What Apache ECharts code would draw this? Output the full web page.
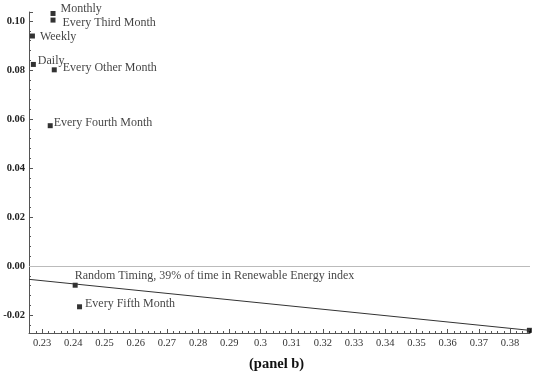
<!DOCTYPE html>
<html><head><meta charset="utf-8">
<script src="https://cdn.jsdelivr.net/npm/echarts@6/dist/echarts.min.js"></script>
<style>html,body{margin:0;padding:0;background:#fff}#c{width:550px;height:381px}</style>
</head><body><div id="c"></div>
<script>
// Strategy points: [risk (x), return (y)]
const names = ['Monthly','Every Third Month','Weekly','Daily','Every Other Month','Every Fourth Month','Random Timing, 39% of time in Renewable Energy index','Every Fifth Month','100% of time in Renewable Energy Index'];
const xVals = [0.2335,0.2335,0.2269,0.2272,0.2339,0.2326,0.2406,0.2420,0.3862];
const yVals = [0.1031,0.1004,0.0939,0.0823,0.0801,0.0573,-0.0078,-0.0166,-0.0262];
const labelOffsets = [[0,-5],[2,3],[0,1],[-3,-4],[1,-2],[-4,-3],[-8,-9],[-2,-3],[25,-22]];
// Reference line endpoints
const lineX = [0.2258,0.3862];
const lineY = [-0.0054,-0.0262];
const xMin = 0.2258, xMax = 0.3864, yMin = -0.0273, yMax = 0.1037;

const font = '"Liberation Serif", "DejaVu Serif", serif';
const chart = echarts.init(document.getElementById('c'));
const pts = names.map((n,i)=>({value:[xVals[i],yVals[i]], name:n,
  label:{show:true, position:'right', distance:5, offset:labelOffsets[i], formatter:n,
    fontFamily:font, fontSize:12, color:'#111'}}));
chart.setOption({
  animation:false,
  grid:{left:29,right:20,top:12,bottom:48,containLabel:false},
  graphic:[{type:'text',left:249,top:357,style:{text:'(panel b)',font:'bold 14.5px "Liberation Serif", serif',fill:'#111'}}],
  xAxis:{type:'value',min:xMin,max:xMax,minInterval:0.01,maxInterval:0.01,splitNumber:16,
    axisLine:{onZero:false,lineStyle:{color:'#555',width:1}},
    axisTick:{inside:true,length:4,lineStyle:{color:'#555'}},
    minorTick:{show:true,splitNumber:5,length:2,lineStyle:{color:'#555'}},
    splitLine:{show:false},
    axisLabel:{showMinLabel:false,showMaxLabel:false,margin:5,fontFamily:font,fontSize:10.5,color:'#333'}},
  yAxis:{type:'value',min:yMin,max:yMax,minInterval:0.02,maxInterval:0.02,splitNumber:7,
    axisLine:{show:true,onZero:false,lineStyle:{color:'#555',width:1}},
    axisTick:{show:true,inside:true,length:4,lineStyle:{color:'#555'}},
    minorTick:{show:true,splitNumber:5,length:2,lineStyle:{color:'#555'}},
    splitLine:{show:false},
    axisLabel:{showMinLabel:false,showMaxLabel:false,margin:4,fontFamily:font,fontSize:10.5,fontWeight:'bold',color:'#222',
      formatter:v=>v.toFixed(2)}},
  series:[
    {type:'line',data:lineX.map((x,i)=>[x,lineY[i]]),symbol:'none',lineStyle:{color:'#333',width:1},
     markLine:{silent:true,symbol:'none',label:{show:false},lineStyle:{color:'#bbb',width:1,type:'solid'},data:[{yAxis:0}]}},
    {type:'scatter',data:pts,symbol:'rect',symbolSize:5,itemStyle:{color:'#000'}}
  ]
});
</script></body></html>
